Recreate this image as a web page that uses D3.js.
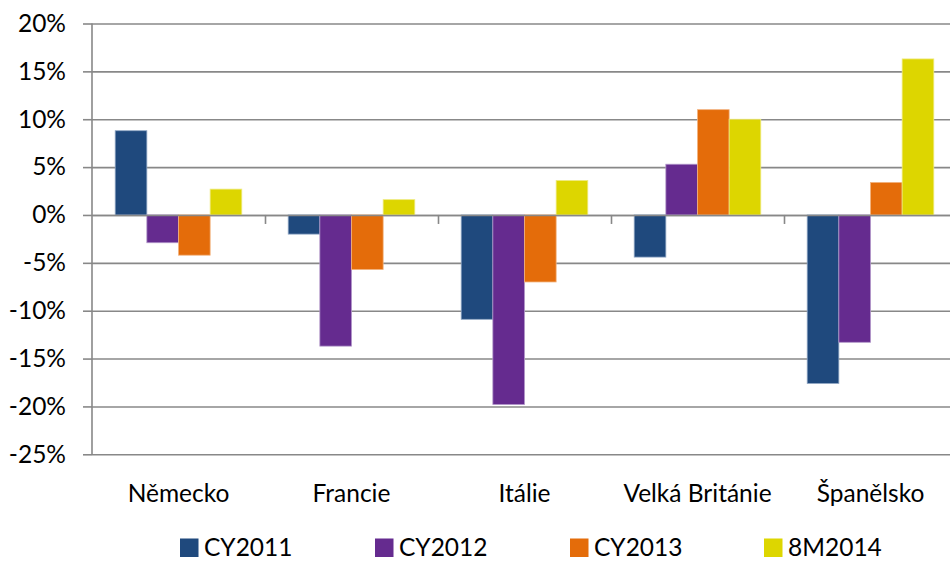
<!DOCTYPE html>
<html>
<head>
<meta charset="utf-8">
<script src="https://cdn.jsdelivr.net/npm/d3@7"></script>
<style>
  html, body { margin: 0; padding: 0; background: #fff; }
  svg { display: block; }
  text { font-family: Lato, "Open Sans", sans-serif; fill: #000; }
</style>
</head>
<body>
<svg id="chart" width="950" height="561"></svg>
<script>
const categories = ["Německo", "Francie", "Itálie", "Velká Británie", "Španělsko"];
const seriesNames = ["CY2011", "CY2012", "CY2013", "8M2014"];
const cy2011 = [8.8, -2.0, -10.9, -4.4, -17.6];
const cy2012 = [-2.9, -13.7, -19.8, 5.3, -13.3];
const cy2013 = [-4.2, -5.7, -7.0, 11.0, 3.4];
const m2014 = [2.7, 1.6, 3.6, 10.0, 16.3];
const yTicks = [20, 15, 10, 5, 0, -5, -10, -15, -20, -25];
const colors = ["#1F497D", "#652B8F", "#E46C0A", "#DDD600"];
const strokes = ["#8FA6C4", "#B196C9", "#F2B27E", "#EEEA80"];

const seriesValues = [cy2011, cy2012, cy2013, m2014];

const svg = d3.select("#chart");
const W = 950, H = 561;
const left = 92, bandW = 173;
const y = d3.scaleLinear().domain([-25, 20]).range([454.3, 23.5]);
const x0 = d3.scaleBand().domain(categories).range([left, left + bandW * categories.length]).padding(0);
const x1 = d3.scaleBand().domain(seriesNames).range([23.2, 23.2 + 126.6]).padding(0);

const gridColor = "#888888";
const fontSize = 24.5;

// gridlines
const grid = svg.append("g").attr("transform", `translate(${left},0)`)
  .call(d3.axisLeft(y).tickValues(yTicks).tickSizeInner(-(W - left)).tickSizeOuter(0).tickFormat(""));
grid.select(".domain").remove();
grid.selectAll("line").attr("stroke", gridColor).attr("stroke-width", 1.6);

// y axis with labels and tick stubs
const yAxis = svg.append("g").attr("transform", `translate(${left},0)`)
  .call(d3.axisLeft(y).tickValues(yTicks).tickSize(9).tickPadding(17).tickFormat(d => d + "%"));
yAxis.select(".domain").attr("stroke", gridColor).attr("stroke-width", 1.6)
  .attr("d", `M0,${y(20)}V${y(-25)}`);
yAxis.selectAll(".tick line").attr("stroke", gridColor).attr("stroke-width", 1.6);
yAxis.selectAll(".tick text").attr("font-size", fontSize).attr("font-family", "Lato").attr("fill", "#000");

// bars
const data = [];
categories.forEach((c, i) => {
  seriesNames.forEach((s, j) => {
    data.push({ cat: c, series: s, value: seriesValues[j][i], idx: j });
  });
});
svg.append("g").selectAll("rect").data(data).join("rect")
  .attr("x", d => x0(d.cat) + x1(d.series))
  .attr("width", x1.bandwidth())
  .attr("y", d => y(Math.max(0, d.value)))
  .attr("height", d => Math.abs(y(d.value) - y(0)))
  .attr("fill", d => colors[d.idx])
  .attr("stroke", d => strokes[d.idx])
  .attr("stroke-width", 0.8);

// x axis line at zero with boundary ticks
const xAxisScale = d3.scaleLinear().domain([0, categories.length]).range([left, left + bandW * categories.length]);
const xAxis = svg.append("g").attr("transform", `translate(0,${y(0)})`)
  .call(d3.axisBottom(xAxisScale).tickValues(d3.range(1, categories.length)).tickSize(9).tickSizeOuter(0).tickFormat(""));
xAxis.select(".domain").attr("stroke", gridColor).attr("stroke-width", 1.6);
xAxis.selectAll(".tick line").attr("stroke", gridColor).attr("stroke-width", 1.6);

// category labels
svg.append("g").selectAll("text").data(categories).join("text")
  .attr("x", d => x0(d) + x0.bandwidth() / 2)
  .attr("y", 501.5)
  .attr("text-anchor", "middle")
  .attr("font-size", fontSize)
  .text(d => d);

// legend
const legendX = [180, 375, 570, 764];
const lg = svg.append("g").selectAll("g").data(seriesNames).join("g")
  .attr("transform", (d, i) => `translate(${legendX[i]},0)`);
lg.append("rect").attr("x", 0).attr("y", 538.5).attr("width", 18.5).attr("height", 18.5)
  .attr("fill", (d, i) => colors[i]);
lg.append("text").attr("x", 24).attr("y", 555.5).attr("font-size", fontSize).text(d => d);
</script>
</body>
</html>
